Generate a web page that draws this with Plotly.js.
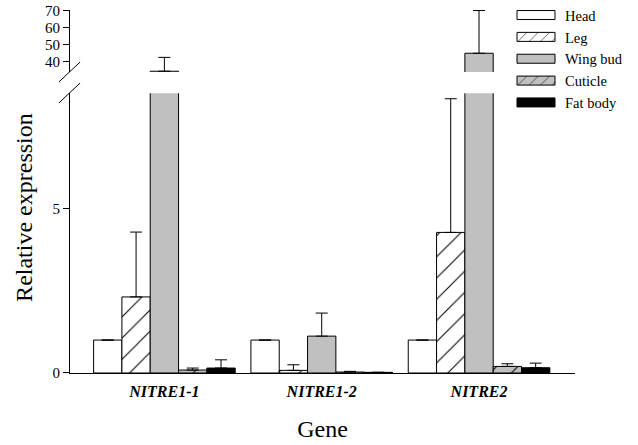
<!DOCTYPE html>
<html>
<head>
<meta charset="utf-8">
<script src="https://cdn.plot.ly/plotly-3.0.1.min.js"></script>
<style>
  html, body { margin: 0; padding: 0; background: #fff; }
  #chart { width: 638px; height: 445px; }
</style>
</head>
<body>
<div id="chart"></div>
<script>
var genes = ['NITRE1-1', 'NITRE1-2', 'NITRE2'];
var geneLabels = ['<b><i>NITRE1-1</i></b>', '<b><i>NITRE1-2</i></b>', '<b><i>NITRE2</i></b>'];

var head = [1, 1, 1];
var headErr = [0, 0, 0];
var leg = [2.31, 0.08, 4.27];
var legErr = [1.97, 0.17, 4.06];
var wingBud = [34.5, 1.12, 45];
var wingBudErr = [8.1, 0.7, 25];
var cuticle = [0.09, 0.03, 0.2];
var cuticleErr = [0.06, 0.02, 0.08];
var fatBody = [0.15, 0.02, 0.16];
var fatBodyErr = [0.25, 0, 0.14];

var lowTicks = [0, 5];
var highTicks = [40, 50, 60, 70];

var serif = 'Liberation Serif, Times New Roman, serif';
var gray = '#c0c0c0';

var series = [
  {name: 'Head', y: head, err: headErr, color: '#ffffff', pattern: null},
  {name: 'Leg', y: leg, err: legErr, color: '#ffffff', pattern: '/'},
  {name: 'Wing bud', y: wingBud, err: wingBudErr, color: gray, pattern: null},
  {name: 'Cuticle', y: cuticle, err: cuticleErr, color: gray, pattern: '/'},
  {name: 'Fat body', y: fatBody, err: fatBodyErr, color: '#000000', pattern: null}
];

// each series is drawn on both halves of the broken axis
function makeTrace(s, yaxis, inLegend) {
  var marker = {color: s.color, line: {color: '#000', width: 1}};
  if (s.pattern) {
    marker.pattern = {shape: s.pattern, bgcolor: s.color, fgcolor: '#000', size: 15, solidity: 0.07};
  }
  return {
    type: 'bar',
    name: s.name,
    x: genes,
    y: s.y,
    xaxis: 'x',
    yaxis: yaxis,
    marker: marker,
    error_y: {type: 'data', array: s.err, arrayminus: s.err.map(function () { return 0; }),
              symmetric: false, color: '#000', thickness: 1, width: 6},
    showlegend: inLegend,
    hoverinfo: 'skip'
  };
}

var data = [];
series.forEach(function (s) { data.push(makeTrace(s, 'y', true)); });
series.forEach(function (s) { data.push(makeTrace(s, 'y2', false)); });

var tickFont = {family: serif, size: 15, color: '#000'};

var layout = {
  width: 638,
  height: 445,
  margin: {l: 70, r: 63, t: 10, b: 72, autoexpand: false},
  paper_bgcolor: '#fff',
  plot_bgcolor: '#fff',
  barmode: 'group',
  bargap: 0.1,
  bargroupgap: 0,
  showlegend: true,
  legend: {
    x: 0.901, y: 1.03, xanchor: 'left', yanchor: 'top',
    font: {family: serif, size: 14.5, color: '#000'},
    bgcolor: 'rgba(0,0,0,0)', traceorder: 'normal'
  },
  xaxis: {
    anchor: 'y',
    range: [-0.6, 2.61],
    tickvals: genes,
    ticktext: geneLabels,
    ticks: '',
    ticklabelstandoff: 4,
    showline: true, linecolor: '#000', linewidth: 1,
    showgrid: false, zeroline: false,
    tickfont: {family: serif, size: 16, color: '#000'},
    title: {text: 'Gene', font: {family: serif, size: 24, color: '#000'}, standoff: 20}
  },
  yaxis: {
    domain: [0, 0.771],
    range: [0, 8.5],
    tickvals: lowTicks,
    ticks: 'outside', ticklen: 6, tickcolor: '#000',
    showline: true, linecolor: '#000', linewidth: 1,
    showgrid: false, zeroline: false,
    tickfont: tickFont
  },
  yaxis2: {
    domain: [0.829, 1],
    range: [34, 70.3],
    anchor: 'x',
    tickvals: highTicks,
    ticks: 'outside', ticklen: 6, tickcolor: '#000',
    showline: true, linecolor: '#000', linewidth: 1,
    showgrid: false, zeroline: false,
    tickfont: tickFont
  },
  annotations: [{
    text: 'Relative expression',
    xref: 'paper', yref: 'paper',
    x: -0.091, y: 0.455, xanchor: 'center', yanchor: 'middle',
    textangle: -90, showarrow: false,
    font: {family: serif, size: 24, color: '#000'}
  }],
  shapes: [
    {type: 'line', xref: 'paper', yref: 'paper', x0: -0.022, y0: 0.8017, x1: 0.02, y1: 0.8567,
     line: {color: '#000', width: 1}},
    {type: 'line', xref: 'paper', yref: 'paper', x0: -0.022, y0: 0.7438, x1: 0.02, y1: 0.7989,
     line: {color: '#000', width: 1}}
  ]
};

Plotly.newPlot('chart', data, layout, {displayModeBar: false, staticPlot: true}).then(function (gd) {
  // widen the legend swatches into flat boxes like the original figure
  gd.querySelectorAll('.legend [clip-path]').forEach(function (el) {
    el.removeAttribute('clip-path');
  });
  gd.querySelectorAll('.legend .legendpoints path').forEach(function (p) {
    p.setAttribute('d', 'M10,4.5H-28V-4.5H10Z');
  });
});
</script>
</body>
</html>
